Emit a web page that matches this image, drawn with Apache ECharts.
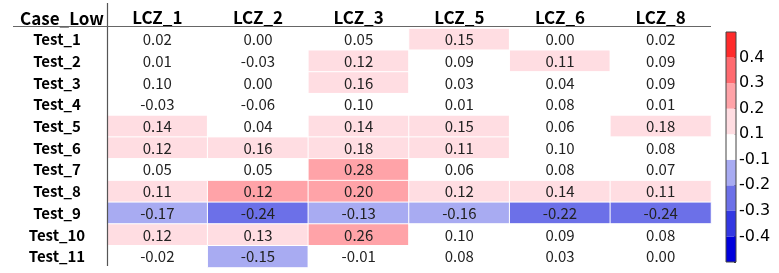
<!DOCTYPE html>
<html>
<head>
<meta charset="utf-8">
<script src="https://cdn.jsdelivr.net/npm/echarts@6/dist/echarts.min.js"></script>
<style>html,body{margin:0;padding:0;background:#fff}#c{width:779px;height:273px}</style>
</head>
<body>
<div id="c"></div>
<script>
var columns = ['LCZ_1', 'LCZ_2', 'LCZ_3', 'LCZ_5', 'LCZ_6', 'LCZ_8'];
var rows = ['Test_1', 'Test_2', 'Test_3', 'Test_4', 'Test_5', 'Test_6', 'Test_7', 'Test_8', 'Test_9', 'Test_10', 'Test_11'];
var LCZ_1 = [0.02, 0.01, 0.10, -0.03, 0.14, 0.12, 0.05, 0.11, -0.17, 0.12, -0.02];
var LCZ_2 = [0.00, -0.03, 0.00, -0.06, 0.04, 0.16, 0.05, 0.12, -0.24, 0.13, -0.15];
var LCZ_3 = [0.05, 0.12, 0.16, 0.10, 0.14, 0.18, 0.28, 0.20, -0.13, 0.26, -0.01];
var LCZ_5 = [0.15, 0.09, 0.03, 0.01, 0.15, 0.11, 0.06, 0.12, -0.16, 0.10, 0.08];
var LCZ_6 = [0.00, 0.11, 0.04, 0.08, 0.06, 0.10, 0.08, 0.14, -0.22, 0.09, 0.03];
var LCZ_8 = [0.02, 0.09, 0.09, 0.01, 0.18, 0.08, 0.07, 0.11, -0.24, 0.08, 0.00];
// cell whose shading in the reference falls in a different band than its printed value
var shadeOverrides = [{ col: 'LCZ_2', row: 'Test_8', shade: 0.22 }];
var colorbarTicks = ['', '-0.4', '-0.3', '-0.2', '-0.1', '0.1', '0.2', '0.3', '0.4', ''];
var bandColors = ['#0000dc', '#3338e2', '#6c70e8', '#a8abf2', '#ffffff', '#ffdde2', '#ffa3a8', '#ff6a6f', '#ff2b2b'];

var colValues = [LCZ_1, LCZ_2, LCZ_3, LCZ_5, LCZ_6, LCZ_8];
var cells = [];
colValues.forEach(function (vals, ci) {
  vals.forEach(function (v, ri) {
    var shade = v;
    shadeOverrides.forEach(function (o) {
      if (o.col === columns[ci] && o.row === rows[ri]) shade = o.shade;
    });
    cells.push([ci, ri, shade, v]);
  });
});

var hdrFont = '"Noto Sans CJK SC", "Noto Sans", sans-serif';
var bandSeries = bandColors.map(function (c) {
  return {
    type: 'bar', xAxisIndex: 1, yAxisIndex: 1, stack: 'cb', data: [1],
    barWidth: '100%', itemStyle: { color: c }, silent: true
  };
});

var chart = echarts.init(document.getElementById('c'), null, { renderer: 'canvas' });
chart.setOption({
  animation: false,
  backgroundColor: '#fff',
  title: {
    text: 'Case_Low', left: 57, top: 5, textAlign: 'center',
    textStyle: { fontFamily: hdrFont, fontWeight: 'bold', fontSize: 17, color: '#000' }
  },
  grid: [
    { left: 107, top: 28.5, width: 604, height: 239 },
    { left: 726, top: 32, width: 10, height: 230 }
  ],
  xAxis: [
    {
      type: 'category', data: columns, position: 'top', gridIndex: 0,
      axisLine: { show: false }, axisTick: { show: false }, splitLine: { show: false },
      axisLabel: { margin: 2, fontFamily: hdrFont, fontWeight: 'bold', fontSize: 17, color: '#000' }
    },
    { type: 'category', data: [''], gridIndex: 1, show: false }
  ],
  yAxis: [
    {
      type: 'category', data: rows, inverse: true, gridIndex: 0,
      axisLine: { show: false }, axisTick: { show: false }, splitLine: { show: false },
      axisLabel: { margin: 50, align: 'center', fontFamily: hdrFont, fontWeight: 'bold', fontSize: 15, color: '#000' }
    },
    {
      type: 'value', gridIndex: 1, min: 0, max: 9, interval: 1, position: 'right',
      splitLine: { show: false },
      axisLine: { show: false },
      axisTick: { show: true, inside: true, length: 2, lineStyle: { color: '#333' } },
      axisLabel: {
        margin: 3, fontFamily: '"DejaVu Sans", sans-serif', fontSize: 16, color: '#000',
        formatter: function (v) { return colorbarTicks[Math.round(v)]; }
      }
    }
  ],
  visualMap: {
    type: 'piecewise', show: false, seriesIndex: 0, dimension: 2,
    pieces: [
      { gte: 0.4, color: bandColors[8] },
      { gte: 0.3, lt: 0.4, color: bandColors[7] },
      { gte: 0.2, lt: 0.3, color: bandColors[6] },
      { gt: 0.1, lt: 0.2, color: bandColors[5] },
      { gte: -0.1, lte: 0.1, color: bandColors[4] },
      { gte: -0.2, lt: -0.1, color: bandColors[3] },
      { gte: -0.3, lt: -0.2, color: bandColors[2] },
      { gte: -0.4, lt: -0.3, color: bandColors[1] },
      { lt: -0.4, color: bandColors[0] }
    ]
  },
  series: [{
    type: 'heatmap', data: cells, xAxisIndex: 0, yAxisIndex: 0,
    itemStyle: { borderColor: '#fff', borderWidth: 1 },
    label: {
      show: true, fontFamily: hdrFont, fontSize: 15, color: '#222',
      formatter: function (p) { return p.data[3].toFixed(2); }
    }
  }].concat(bandSeries),
  graphic: [
    { type: 'line', shape: { x1: 107.5, y1: 3, x2: 107.5, y2: 266 }, style: { stroke: '#555', lineWidth: 1.2 }, z: 10 },
    { type: 'line', shape: { x1: 13, y1: 26.5, x2: 711, y2: 26.5 }, style: { stroke: '#666', lineWidth: 1.2 }, z: 10 },
    { type: 'rect', shape: { x: 726, y: 32, width: 10, height: 230 }, style: { fill: 'none', stroke: '#444', lineWidth: 1 }, z: 10 }
  ]
});
</script>
</body>
</html>
